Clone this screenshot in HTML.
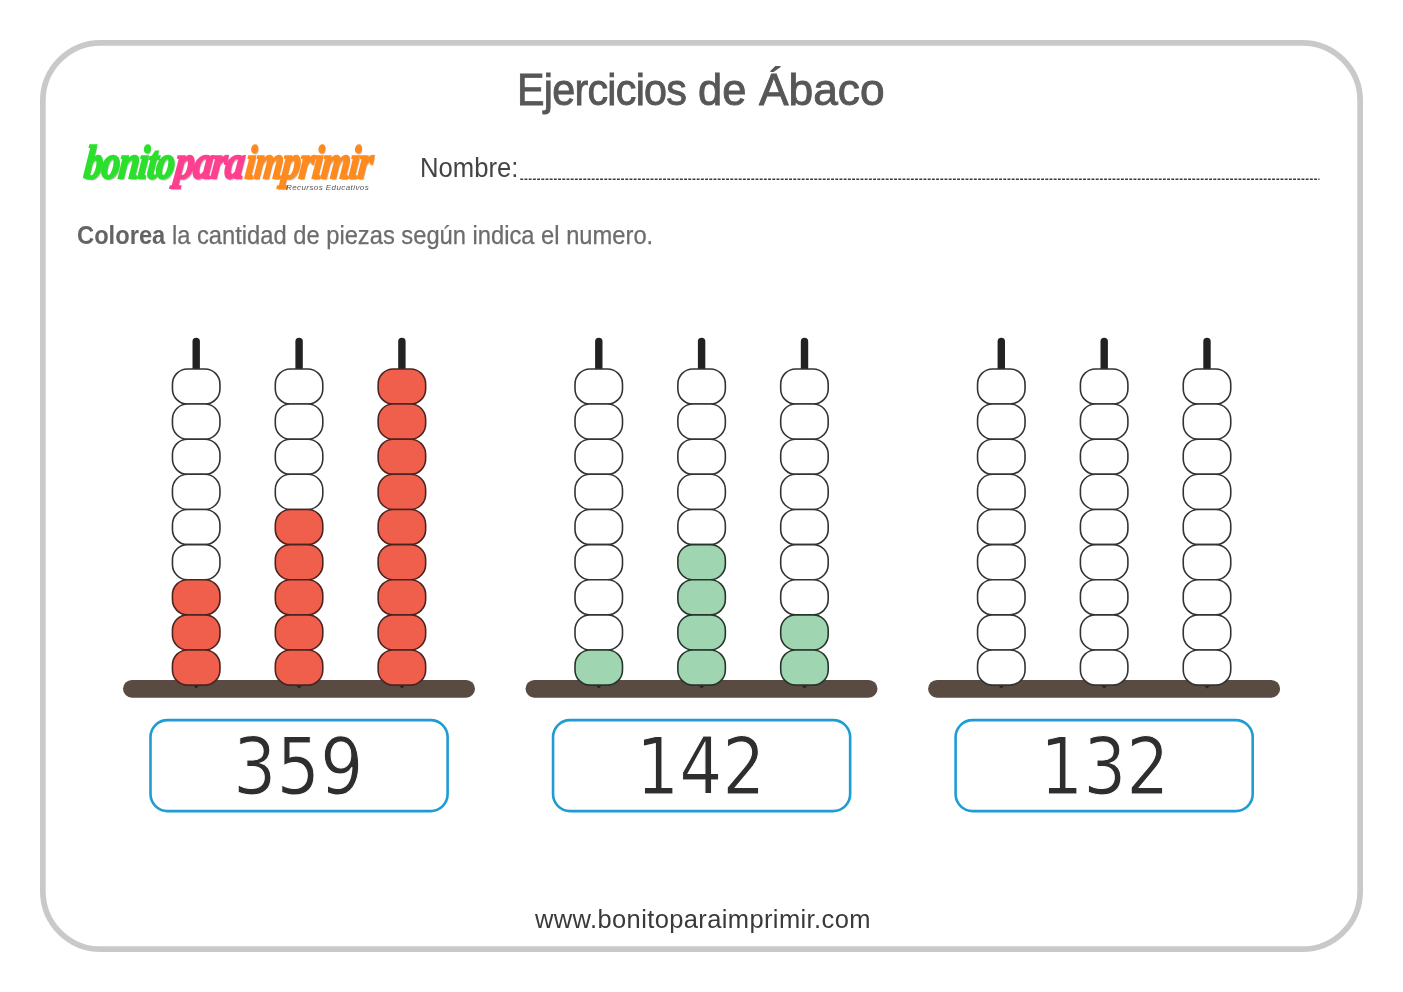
<!DOCTYPE html>
<html lang="es">
<head>
<meta charset="utf-8">
<title>Ejercicios de Ábaco</title>
<style>
html,body{margin:0;padding:0;background:#fff;}
body{width:1403px;height:992px;position:relative;overflow:hidden;font-family:"Liberation Sans",sans-serif;}
.frame{fill:none;stroke:#c9c9c9;stroke-width:5.7;}
.abs{position:absolute;white-space:nowrap;line-height:1;}
.title{font-size:45px;color:#575757;-webkit-text-stroke:0.9px #575757;top:66.9px;transform-origin:0 0;}
.t1{left:516.95px;letter-spacing:-0.8px;transform:scaleX(0.9166);}
.t2{left:698.3px;transform:scaleX(0.9646);}
.t3{left:759.1px;transform:scaleX(0.985);}
.nombre{left:419.5px;top:154.8px;font-size:27px;color:#444;transform-origin:0 0;transform:scaleX(0.95);}
.dots{stroke:#3a3a3a;stroke-width:1.7;stroke-dasharray:2.9 1.3;}
.instr{left:77.05px;top:222.6px;font-size:25px;color:#6c6c6c;transform-origin:0 0;transform:scaleX(0.9487);-webkit-text-stroke:0.25px #6c6c6c;}
.instr b{color:#646464;-webkit-text-stroke:0;}
.logo{top:135px;font:italic 700 47px "Liberation Serif",serif;letter-spacing:-1.4px;transform-origin:0 0;text-shadow:1.5px 2px 1.2px rgba(110,110,110,0.5);}
.lg{left:88.46px;color:#2be02b;-webkit-text-stroke:2.2px #2be02b;transform:scaleX(0.78) skewX(-8deg);}
.lp{left:178.63px;color:#ff3f8f;-webkit-text-stroke:2.2px #ff3f8f;transform:scaleX(0.819) skewX(-8deg);}
.lo{left:249.49px;color:#ff8a1e;-webkit-text-stroke:2.2px #ff8a1e;transform:scaleX(0.782) skewX(-8deg);}
.sub{left:286px;top:184.4px;font-size:8px;font-style:italic;color:#555;letter-spacing:0.42px;}
.num{font-family:"DejaVu Sans Condensed","Liberation Sans",sans-serif;font-size:78px;color:#2e2e2e;-webkit-text-stroke:1px #fff;top:727.7px;transform-origin:0 0;}
.box{fill:none;stroke:#1e9cd3;stroke-width:2.6;}
.footer{left:535px;top:906.9px;font-size:25.5px;color:#3a3a3a;letter-spacing:0.38px;}
svg{position:absolute;left:0;top:0;}
.rod{stroke:#222;stroke-width:7.4;stroke-linecap:round;}
.bar{fill:#594a42;}
.tip{fill:#2a2220;}
.bead{stroke-width:1.6;}
</style>
</head>
<body>
<div class="abs title t1">Ejercicios </div><div class="abs title t2">de </div><div class="abs title t3">Ábaco</div>
<div class="abs logo lo">imprimir</div><div class="abs logo lp">para</div><div class="abs logo lg">bonito</div>
<div class="abs sub">Recursos Educativos</div>
<div class="abs nombre">Nombre:</div>
<div class="abs instr"><b>Colorea</b> la cantidad de piezas según indica el numero.</div>
<svg width="1403" height="992" viewBox="0 0 1403 992">
<rect class="frame" x="42.85" y="42.85" width="1317.3" height="906.3" rx="58"/>
<line class="rod" x1="196.2" y1="341.4" x2="196.2" y2="686.5"/>
<line class="rod" x1="299.1" y1="341.4" x2="299.1" y2="686.5"/>
<line class="rod" x1="401.9" y1="341.4" x2="401.9" y2="686.5"/>
<rect class="box" x="150.50" y="720.10" width="297.10" height="91.00" rx="17"/>
<rect class="bar" x="123.0" y="679.9" width="352.0" height="17.8" rx="8.90"/>
<path class="tip" d="M193.2,685.6L196.2,688.6L199.2,685.6Z"/>
<path class="tip" d="M296.1,685.6L299.1,688.6L302.1,685.6Z"/>
<path class="tip" d="M398.9,685.6L401.9,688.6L404.9,685.6Z"/>
<path class="bead" fill="#fff" stroke="#333333" d="M187.45,368.95H204.95C213.23,368.95 219.95,375.76 219.95,384.15V388.88C219.95,397.27 213.23,404.07 204.95,404.07H187.45C179.17,404.07 172.45,397.27 172.45,388.88V384.15C172.45,375.76 179.17,368.95 187.45,368.95Z"/>
<path class="bead" fill="#fff" stroke="#333333" d="M187.45,404.07H204.95C213.23,404.07 219.95,410.88 219.95,419.27V424.00C219.95,432.39 213.23,439.20 204.95,439.20H187.45C179.17,439.20 172.45,432.39 172.45,424.00V419.27C172.45,410.88 179.17,404.07 187.45,404.07Z"/>
<path class="bead" fill="#fff" stroke="#333333" d="M187.45,439.20H204.95C213.23,439.20 219.95,446.01 219.95,454.40V459.12C219.95,467.52 213.23,474.32 204.95,474.32H187.45C179.17,474.32 172.45,467.52 172.45,459.12V454.40C172.45,446.01 179.17,439.20 187.45,439.20Z"/>
<path class="bead" fill="#fff" stroke="#333333" d="M187.45,474.32H204.95C213.23,474.32 219.95,481.13 219.95,489.52V494.25C219.95,502.64 213.23,509.45 204.95,509.45H187.45C179.17,509.45 172.45,502.64 172.45,494.25V489.52C172.45,481.13 179.17,474.32 187.45,474.32Z"/>
<path class="bead" fill="#fff" stroke="#333333" d="M187.45,509.45H204.95C213.23,509.45 219.95,516.26 219.95,524.65V529.38C219.95,537.77 213.23,544.58 204.95,544.58H187.45C179.17,544.58 172.45,537.77 172.45,529.38V524.65C172.45,516.26 179.17,509.45 187.45,509.45Z"/>
<path class="bead" fill="#fff" stroke="#333333" d="M187.45,544.58H204.95C213.23,544.58 219.95,551.38 219.95,559.78V564.50C219.95,572.89 213.23,579.70 204.95,579.70H187.45C179.17,579.70 172.45,572.89 172.45,564.50V559.78C172.45,551.38 179.17,544.58 187.45,544.58Z"/>
<path class="bead" fill="#f05f4b" stroke="#4a2420" d="M187.45,579.70H204.95C213.23,579.70 219.95,586.51 219.95,594.90V599.62C219.95,608.02 213.23,614.83 204.95,614.83H187.45C179.17,614.83 172.45,608.02 172.45,599.62V594.90C172.45,586.51 179.17,579.70 187.45,579.70Z"/>
<path class="bead" fill="#f05f4b" stroke="#4a2420" d="M187.45,614.83H204.95C213.23,614.83 219.95,621.63 219.95,630.03V634.75C219.95,643.14 213.23,649.95 204.95,649.95H187.45C179.17,649.95 172.45,643.14 172.45,634.75V630.03C172.45,621.63 179.17,614.83 187.45,614.83Z"/>
<path class="bead" fill="#f05f4b" stroke="#4a2420" d="M187.45,649.95H204.95C213.23,649.95 219.95,656.76 219.95,665.15V669.88C219.95,678.27 213.23,685.08 204.95,685.08H187.45C179.17,685.08 172.45,678.27 172.45,669.88V665.15C172.45,656.76 179.17,649.95 187.45,649.95Z"/>
<path class="bead" fill="#fff" stroke="#333333" d="M290.30,368.95H307.80C316.08,368.95 322.80,375.76 322.80,384.15V388.88C322.80,397.27 316.08,404.07 307.80,404.07H290.30C282.02,404.07 275.30,397.27 275.30,388.88V384.15C275.30,375.76 282.02,368.95 290.30,368.95Z"/>
<path class="bead" fill="#fff" stroke="#333333" d="M290.30,404.07H307.80C316.08,404.07 322.80,410.88 322.80,419.27V424.00C322.80,432.39 316.08,439.20 307.80,439.20H290.30C282.02,439.20 275.30,432.39 275.30,424.00V419.27C275.30,410.88 282.02,404.07 290.30,404.07Z"/>
<path class="bead" fill="#fff" stroke="#333333" d="M290.30,439.20H307.80C316.08,439.20 322.80,446.01 322.80,454.40V459.12C322.80,467.52 316.08,474.32 307.80,474.32H290.30C282.02,474.32 275.30,467.52 275.30,459.12V454.40C275.30,446.01 282.02,439.20 290.30,439.20Z"/>
<path class="bead" fill="#fff" stroke="#333333" d="M290.30,474.32H307.80C316.08,474.32 322.80,481.13 322.80,489.52V494.25C322.80,502.64 316.08,509.45 307.80,509.45H290.30C282.02,509.45 275.30,502.64 275.30,494.25V489.52C275.30,481.13 282.02,474.32 290.30,474.32Z"/>
<path class="bead" fill="#f05f4b" stroke="#4a2420" d="M290.30,509.45H307.80C316.08,509.45 322.80,516.26 322.80,524.65V529.38C322.80,537.77 316.08,544.58 307.80,544.58H290.30C282.02,544.58 275.30,537.77 275.30,529.38V524.65C275.30,516.26 282.02,509.45 290.30,509.45Z"/>
<path class="bead" fill="#f05f4b" stroke="#4a2420" d="M290.30,544.58H307.80C316.08,544.58 322.80,551.38 322.80,559.78V564.50C322.80,572.89 316.08,579.70 307.80,579.70H290.30C282.02,579.70 275.30,572.89 275.30,564.50V559.78C275.30,551.38 282.02,544.58 290.30,544.58Z"/>
<path class="bead" fill="#f05f4b" stroke="#4a2420" d="M290.30,579.70H307.80C316.08,579.70 322.80,586.51 322.80,594.90V599.62C322.80,608.02 316.08,614.83 307.80,614.83H290.30C282.02,614.83 275.30,608.02 275.30,599.62V594.90C275.30,586.51 282.02,579.70 290.30,579.70Z"/>
<path class="bead" fill="#f05f4b" stroke="#4a2420" d="M290.30,614.83H307.80C316.08,614.83 322.80,621.63 322.80,630.03V634.75C322.80,643.14 316.08,649.95 307.80,649.95H290.30C282.02,649.95 275.30,643.14 275.30,634.75V630.03C275.30,621.63 282.02,614.83 290.30,614.83Z"/>
<path class="bead" fill="#f05f4b" stroke="#4a2420" d="M290.30,649.95H307.80C316.08,649.95 322.80,656.76 322.80,665.15V669.88C322.80,678.27 316.08,685.08 307.80,685.08H290.30C282.02,685.08 275.30,678.27 275.30,669.88V665.15C275.30,656.76 282.02,649.95 290.30,649.95Z"/>
<path class="bead" fill="#f05f4b" stroke="#4a2420" d="M393.15,368.95H410.65C418.93,368.95 425.65,375.76 425.65,384.15V388.88C425.65,397.27 418.93,404.07 410.65,404.07H393.15C384.87,404.07 378.15,397.27 378.15,388.88V384.15C378.15,375.76 384.87,368.95 393.15,368.95Z"/>
<path class="bead" fill="#f05f4b" stroke="#4a2420" d="M393.15,404.07H410.65C418.93,404.07 425.65,410.88 425.65,419.27V424.00C425.65,432.39 418.93,439.20 410.65,439.20H393.15C384.87,439.20 378.15,432.39 378.15,424.00V419.27C378.15,410.88 384.87,404.07 393.15,404.07Z"/>
<path class="bead" fill="#f05f4b" stroke="#4a2420" d="M393.15,439.20H410.65C418.93,439.20 425.65,446.01 425.65,454.40V459.12C425.65,467.52 418.93,474.32 410.65,474.32H393.15C384.87,474.32 378.15,467.52 378.15,459.12V454.40C378.15,446.01 384.87,439.20 393.15,439.20Z"/>
<path class="bead" fill="#f05f4b" stroke="#4a2420" d="M393.15,474.32H410.65C418.93,474.32 425.65,481.13 425.65,489.52V494.25C425.65,502.64 418.93,509.45 410.65,509.45H393.15C384.87,509.45 378.15,502.64 378.15,494.25V489.52C378.15,481.13 384.87,474.32 393.15,474.32Z"/>
<path class="bead" fill="#f05f4b" stroke="#4a2420" d="M393.15,509.45H410.65C418.93,509.45 425.65,516.26 425.65,524.65V529.38C425.65,537.77 418.93,544.58 410.65,544.58H393.15C384.87,544.58 378.15,537.77 378.15,529.38V524.65C378.15,516.26 384.87,509.45 393.15,509.45Z"/>
<path class="bead" fill="#f05f4b" stroke="#4a2420" d="M393.15,544.58H410.65C418.93,544.58 425.65,551.38 425.65,559.78V564.50C425.65,572.89 418.93,579.70 410.65,579.70H393.15C384.87,579.70 378.15,572.89 378.15,564.50V559.78C378.15,551.38 384.87,544.58 393.15,544.58Z"/>
<path class="bead" fill="#f05f4b" stroke="#4a2420" d="M393.15,579.70H410.65C418.93,579.70 425.65,586.51 425.65,594.90V599.62C425.65,608.02 418.93,614.83 410.65,614.83H393.15C384.87,614.83 378.15,608.02 378.15,599.62V594.90C378.15,586.51 384.87,579.70 393.15,579.70Z"/>
<path class="bead" fill="#f05f4b" stroke="#4a2420" d="M393.15,614.83H410.65C418.93,614.83 425.65,621.63 425.65,630.03V634.75C425.65,643.14 418.93,649.95 410.65,649.95H393.15C384.87,649.95 378.15,643.14 378.15,634.75V630.03C378.15,621.63 384.87,614.83 393.15,614.83Z"/>
<path class="bead" fill="#f05f4b" stroke="#4a2420" d="M393.15,649.95H410.65C418.93,649.95 425.65,656.76 425.65,665.15V669.88C425.65,678.27 418.93,685.08 410.65,685.08H393.15C384.87,685.08 378.15,678.27 378.15,669.88V665.15C378.15,656.76 384.87,649.95 393.15,649.95Z"/>
<line class="rod" x1="598.8" y1="341.4" x2="598.8" y2="686.5"/>
<line class="rod" x1="701.6" y1="341.4" x2="701.6" y2="686.5"/>
<line class="rod" x1="804.5" y1="341.4" x2="804.5" y2="686.5"/>
<rect class="box" x="553.05" y="720.10" width="297.10" height="91.00" rx="17"/>
<rect class="bar" x="525.5" y="679.9" width="352.0" height="17.8" rx="8.90"/>
<path class="tip" d="M595.8,685.6L598.8,688.6L601.8,685.6Z"/>
<path class="tip" d="M698.6,685.6L701.6,688.6L704.6,685.6Z"/>
<path class="tip" d="M801.5,685.6L804.5,688.6L807.5,685.6Z"/>
<path class="bead" fill="#fff" stroke="#333333" d="M590.00,368.95H607.50C615.78,368.95 622.50,375.76 622.50,384.15V388.88C622.50,397.27 615.78,404.07 607.50,404.07H590.00C581.72,404.07 575.00,397.27 575.00,388.88V384.15C575.00,375.76 581.72,368.95 590.00,368.95Z"/>
<path class="bead" fill="#fff" stroke="#333333" d="M590.00,404.07H607.50C615.78,404.07 622.50,410.88 622.50,419.27V424.00C622.50,432.39 615.78,439.20 607.50,439.20H590.00C581.72,439.20 575.00,432.39 575.00,424.00V419.27C575.00,410.88 581.72,404.07 590.00,404.07Z"/>
<path class="bead" fill="#fff" stroke="#333333" d="M590.00,439.20H607.50C615.78,439.20 622.50,446.01 622.50,454.40V459.12C622.50,467.52 615.78,474.32 607.50,474.32H590.00C581.72,474.32 575.00,467.52 575.00,459.12V454.40C575.00,446.01 581.72,439.20 590.00,439.20Z"/>
<path class="bead" fill="#fff" stroke="#333333" d="M590.00,474.32H607.50C615.78,474.32 622.50,481.13 622.50,489.52V494.25C622.50,502.64 615.78,509.45 607.50,509.45H590.00C581.72,509.45 575.00,502.64 575.00,494.25V489.52C575.00,481.13 581.72,474.32 590.00,474.32Z"/>
<path class="bead" fill="#fff" stroke="#333333" d="M590.00,509.45H607.50C615.78,509.45 622.50,516.26 622.50,524.65V529.38C622.50,537.77 615.78,544.58 607.50,544.58H590.00C581.72,544.58 575.00,537.77 575.00,529.38V524.65C575.00,516.26 581.72,509.45 590.00,509.45Z"/>
<path class="bead" fill="#fff" stroke="#333333" d="M590.00,544.58H607.50C615.78,544.58 622.50,551.38 622.50,559.78V564.50C622.50,572.89 615.78,579.70 607.50,579.70H590.00C581.72,579.70 575.00,572.89 575.00,564.50V559.78C575.00,551.38 581.72,544.58 590.00,544.58Z"/>
<path class="bead" fill="#fff" stroke="#333333" d="M590.00,579.70H607.50C615.78,579.70 622.50,586.51 622.50,594.90V599.62C622.50,608.02 615.78,614.83 607.50,614.83H590.00C581.72,614.83 575.00,608.02 575.00,599.62V594.90C575.00,586.51 581.72,579.70 590.00,579.70Z"/>
<path class="bead" fill="#fff" stroke="#333333" d="M590.00,614.83H607.50C615.78,614.83 622.50,621.63 622.50,630.03V634.75C622.50,643.14 615.78,649.95 607.50,649.95H590.00C581.72,649.95 575.00,643.14 575.00,634.75V630.03C575.00,621.63 581.72,614.83 590.00,614.83Z"/>
<path class="bead" fill="#9fd5b1" stroke="#27352c" d="M590.00,649.95H607.50C615.78,649.95 622.50,656.76 622.50,665.15V669.88C622.50,678.27 615.78,685.08 607.50,685.08H590.00C581.72,685.08 575.00,678.27 575.00,669.88V665.15C575.00,656.76 581.72,649.95 590.00,649.95Z"/>
<path class="bead" fill="#fff" stroke="#333333" d="M692.85,368.95H710.35C718.63,368.95 725.35,375.76 725.35,384.15V388.88C725.35,397.27 718.63,404.07 710.35,404.07H692.85C684.57,404.07 677.85,397.27 677.85,388.88V384.15C677.85,375.76 684.57,368.95 692.85,368.95Z"/>
<path class="bead" fill="#fff" stroke="#333333" d="M692.85,404.07H710.35C718.63,404.07 725.35,410.88 725.35,419.27V424.00C725.35,432.39 718.63,439.20 710.35,439.20H692.85C684.57,439.20 677.85,432.39 677.85,424.00V419.27C677.85,410.88 684.57,404.07 692.85,404.07Z"/>
<path class="bead" fill="#fff" stroke="#333333" d="M692.85,439.20H710.35C718.63,439.20 725.35,446.01 725.35,454.40V459.12C725.35,467.52 718.63,474.32 710.35,474.32H692.85C684.57,474.32 677.85,467.52 677.85,459.12V454.40C677.85,446.01 684.57,439.20 692.85,439.20Z"/>
<path class="bead" fill="#fff" stroke="#333333" d="M692.85,474.32H710.35C718.63,474.32 725.35,481.13 725.35,489.52V494.25C725.35,502.64 718.63,509.45 710.35,509.45H692.85C684.57,509.45 677.85,502.64 677.85,494.25V489.52C677.85,481.13 684.57,474.32 692.85,474.32Z"/>
<path class="bead" fill="#fff" stroke="#333333" d="M692.85,509.45H710.35C718.63,509.45 725.35,516.26 725.35,524.65V529.38C725.35,537.77 718.63,544.58 710.35,544.58H692.85C684.57,544.58 677.85,537.77 677.85,529.38V524.65C677.85,516.26 684.57,509.45 692.85,509.45Z"/>
<path class="bead" fill="#9fd5b1" stroke="#27352c" d="M692.85,544.58H710.35C718.63,544.58 725.35,551.38 725.35,559.78V564.50C725.35,572.89 718.63,579.70 710.35,579.70H692.85C684.57,579.70 677.85,572.89 677.85,564.50V559.78C677.85,551.38 684.57,544.58 692.85,544.58Z"/>
<path class="bead" fill="#9fd5b1" stroke="#27352c" d="M692.85,579.70H710.35C718.63,579.70 725.35,586.51 725.35,594.90V599.62C725.35,608.02 718.63,614.83 710.35,614.83H692.85C684.57,614.83 677.85,608.02 677.85,599.62V594.90C677.85,586.51 684.57,579.70 692.85,579.70Z"/>
<path class="bead" fill="#9fd5b1" stroke="#27352c" d="M692.85,614.83H710.35C718.63,614.83 725.35,621.63 725.35,630.03V634.75C725.35,643.14 718.63,649.95 710.35,649.95H692.85C684.57,649.95 677.85,643.14 677.85,634.75V630.03C677.85,621.63 684.57,614.83 692.85,614.83Z"/>
<path class="bead" fill="#9fd5b1" stroke="#27352c" d="M692.85,649.95H710.35C718.63,649.95 725.35,656.76 725.35,665.15V669.88C725.35,678.27 718.63,685.08 710.35,685.08H692.85C684.57,685.08 677.85,678.27 677.85,669.88V665.15C677.85,656.76 684.57,649.95 692.85,649.95Z"/>
<path class="bead" fill="#fff" stroke="#333333" d="M795.70,368.95H813.20C821.48,368.95 828.20,375.76 828.20,384.15V388.88C828.20,397.27 821.48,404.07 813.20,404.07H795.70C787.42,404.07 780.70,397.27 780.70,388.88V384.15C780.70,375.76 787.42,368.95 795.70,368.95Z"/>
<path class="bead" fill="#fff" stroke="#333333" d="M795.70,404.07H813.20C821.48,404.07 828.20,410.88 828.20,419.27V424.00C828.20,432.39 821.48,439.20 813.20,439.20H795.70C787.42,439.20 780.70,432.39 780.70,424.00V419.27C780.70,410.88 787.42,404.07 795.70,404.07Z"/>
<path class="bead" fill="#fff" stroke="#333333" d="M795.70,439.20H813.20C821.48,439.20 828.20,446.01 828.20,454.40V459.12C828.20,467.52 821.48,474.32 813.20,474.32H795.70C787.42,474.32 780.70,467.52 780.70,459.12V454.40C780.70,446.01 787.42,439.20 795.70,439.20Z"/>
<path class="bead" fill="#fff" stroke="#333333" d="M795.70,474.32H813.20C821.48,474.32 828.20,481.13 828.20,489.52V494.25C828.20,502.64 821.48,509.45 813.20,509.45H795.70C787.42,509.45 780.70,502.64 780.70,494.25V489.52C780.70,481.13 787.42,474.32 795.70,474.32Z"/>
<path class="bead" fill="#fff" stroke="#333333" d="M795.70,509.45H813.20C821.48,509.45 828.20,516.26 828.20,524.65V529.38C828.20,537.77 821.48,544.58 813.20,544.58H795.70C787.42,544.58 780.70,537.77 780.70,529.38V524.65C780.70,516.26 787.42,509.45 795.70,509.45Z"/>
<path class="bead" fill="#fff" stroke="#333333" d="M795.70,544.58H813.20C821.48,544.58 828.20,551.38 828.20,559.78V564.50C828.20,572.89 821.48,579.70 813.20,579.70H795.70C787.42,579.70 780.70,572.89 780.70,564.50V559.78C780.70,551.38 787.42,544.58 795.70,544.58Z"/>
<path class="bead" fill="#fff" stroke="#333333" d="M795.70,579.70H813.20C821.48,579.70 828.20,586.51 828.20,594.90V599.62C828.20,608.02 821.48,614.83 813.20,614.83H795.70C787.42,614.83 780.70,608.02 780.70,599.62V594.90C780.70,586.51 787.42,579.70 795.70,579.70Z"/>
<path class="bead" fill="#9fd5b1" stroke="#27352c" d="M795.70,614.83H813.20C821.48,614.83 828.20,621.63 828.20,630.03V634.75C828.20,643.14 821.48,649.95 813.20,649.95H795.70C787.42,649.95 780.70,643.14 780.70,634.75V630.03C780.70,621.63 787.42,614.83 795.70,614.83Z"/>
<path class="bead" fill="#9fd5b1" stroke="#27352c" d="M795.70,649.95H813.20C821.48,649.95 828.20,656.76 828.20,665.15V669.88C828.20,678.27 821.48,685.08 813.20,685.08H795.70C787.42,685.08 780.70,678.27 780.70,669.88V665.15C780.70,656.76 787.42,649.95 795.70,649.95Z"/>
<line class="rod" x1="1001.3" y1="341.4" x2="1001.3" y2="686.5"/>
<line class="rod" x1="1104.2" y1="341.4" x2="1104.2" y2="686.5"/>
<line class="rod" x1="1207.0" y1="341.4" x2="1207.0" y2="686.5"/>
<rect class="box" x="955.60" y="720.10" width="297.10" height="91.00" rx="17"/>
<rect class="bar" x="928.1" y="679.9" width="352.0" height="17.8" rx="8.90"/>
<path class="tip" d="M998.3,685.6L1001.3,688.6L1004.3,685.6Z"/>
<path class="tip" d="M1101.2,685.6L1104.2,688.6L1107.2,685.6Z"/>
<path class="tip" d="M1204.0,685.6L1207.0,688.6L1210.0,685.6Z"/>
<path class="bead" fill="#fff" stroke="#333333" d="M992.55,368.95H1010.05C1018.33,368.95 1025.05,375.76 1025.05,384.15V388.88C1025.05,397.27 1018.33,404.07 1010.05,404.07H992.55C984.27,404.07 977.55,397.27 977.55,388.88V384.15C977.55,375.76 984.27,368.95 992.55,368.95Z"/>
<path class="bead" fill="#fff" stroke="#333333" d="M992.55,404.07H1010.05C1018.33,404.07 1025.05,410.88 1025.05,419.27V424.00C1025.05,432.39 1018.33,439.20 1010.05,439.20H992.55C984.27,439.20 977.55,432.39 977.55,424.00V419.27C977.55,410.88 984.27,404.07 992.55,404.07Z"/>
<path class="bead" fill="#fff" stroke="#333333" d="M992.55,439.20H1010.05C1018.33,439.20 1025.05,446.01 1025.05,454.40V459.12C1025.05,467.52 1018.33,474.32 1010.05,474.32H992.55C984.27,474.32 977.55,467.52 977.55,459.12V454.40C977.55,446.01 984.27,439.20 992.55,439.20Z"/>
<path class="bead" fill="#fff" stroke="#333333" d="M992.55,474.32H1010.05C1018.33,474.32 1025.05,481.13 1025.05,489.52V494.25C1025.05,502.64 1018.33,509.45 1010.05,509.45H992.55C984.27,509.45 977.55,502.64 977.55,494.25V489.52C977.55,481.13 984.27,474.32 992.55,474.32Z"/>
<path class="bead" fill="#fff" stroke="#333333" d="M992.55,509.45H1010.05C1018.33,509.45 1025.05,516.26 1025.05,524.65V529.38C1025.05,537.77 1018.33,544.58 1010.05,544.58H992.55C984.27,544.58 977.55,537.77 977.55,529.38V524.65C977.55,516.26 984.27,509.45 992.55,509.45Z"/>
<path class="bead" fill="#fff" stroke="#333333" d="M992.55,544.58H1010.05C1018.33,544.58 1025.05,551.38 1025.05,559.78V564.50C1025.05,572.89 1018.33,579.70 1010.05,579.70H992.55C984.27,579.70 977.55,572.89 977.55,564.50V559.78C977.55,551.38 984.27,544.58 992.55,544.58Z"/>
<path class="bead" fill="#fff" stroke="#333333" d="M992.55,579.70H1010.05C1018.33,579.70 1025.05,586.51 1025.05,594.90V599.62C1025.05,608.02 1018.33,614.83 1010.05,614.83H992.55C984.27,614.83 977.55,608.02 977.55,599.62V594.90C977.55,586.51 984.27,579.70 992.55,579.70Z"/>
<path class="bead" fill="#fff" stroke="#333333" d="M992.55,614.83H1010.05C1018.33,614.83 1025.05,621.63 1025.05,630.03V634.75C1025.05,643.14 1018.33,649.95 1010.05,649.95H992.55C984.27,649.95 977.55,643.14 977.55,634.75V630.03C977.55,621.63 984.27,614.83 992.55,614.83Z"/>
<path class="bead" fill="#fff" stroke="#333333" d="M992.55,649.95H1010.05C1018.33,649.95 1025.05,656.76 1025.05,665.15V669.88C1025.05,678.27 1018.33,685.08 1010.05,685.08H992.55C984.27,685.08 977.55,678.27 977.55,669.88V665.15C977.55,656.76 984.27,649.95 992.55,649.95Z"/>
<path class="bead" fill="#fff" stroke="#333333" d="M1095.40,368.95H1112.90C1121.18,368.95 1127.90,375.76 1127.90,384.15V388.88C1127.90,397.27 1121.18,404.07 1112.90,404.07H1095.40C1087.12,404.07 1080.40,397.27 1080.40,388.88V384.15C1080.40,375.76 1087.12,368.95 1095.40,368.95Z"/>
<path class="bead" fill="#fff" stroke="#333333" d="M1095.40,404.07H1112.90C1121.18,404.07 1127.90,410.88 1127.90,419.27V424.00C1127.90,432.39 1121.18,439.20 1112.90,439.20H1095.40C1087.12,439.20 1080.40,432.39 1080.40,424.00V419.27C1080.40,410.88 1087.12,404.07 1095.40,404.07Z"/>
<path class="bead" fill="#fff" stroke="#333333" d="M1095.40,439.20H1112.90C1121.18,439.20 1127.90,446.01 1127.90,454.40V459.12C1127.90,467.52 1121.18,474.32 1112.90,474.32H1095.40C1087.12,474.32 1080.40,467.52 1080.40,459.12V454.40C1080.40,446.01 1087.12,439.20 1095.40,439.20Z"/>
<path class="bead" fill="#fff" stroke="#333333" d="M1095.40,474.32H1112.90C1121.18,474.32 1127.90,481.13 1127.90,489.52V494.25C1127.90,502.64 1121.18,509.45 1112.90,509.45H1095.40C1087.12,509.45 1080.40,502.64 1080.40,494.25V489.52C1080.40,481.13 1087.12,474.32 1095.40,474.32Z"/>
<path class="bead" fill="#fff" stroke="#333333" d="M1095.40,509.45H1112.90C1121.18,509.45 1127.90,516.26 1127.90,524.65V529.38C1127.90,537.77 1121.18,544.58 1112.90,544.58H1095.40C1087.12,544.58 1080.40,537.77 1080.40,529.38V524.65C1080.40,516.26 1087.12,509.45 1095.40,509.45Z"/>
<path class="bead" fill="#fff" stroke="#333333" d="M1095.40,544.58H1112.90C1121.18,544.58 1127.90,551.38 1127.90,559.78V564.50C1127.90,572.89 1121.18,579.70 1112.90,579.70H1095.40C1087.12,579.70 1080.40,572.89 1080.40,564.50V559.78C1080.40,551.38 1087.12,544.58 1095.40,544.58Z"/>
<path class="bead" fill="#fff" stroke="#333333" d="M1095.40,579.70H1112.90C1121.18,579.70 1127.90,586.51 1127.90,594.90V599.62C1127.90,608.02 1121.18,614.83 1112.90,614.83H1095.40C1087.12,614.83 1080.40,608.02 1080.40,599.62V594.90C1080.40,586.51 1087.12,579.70 1095.40,579.70Z"/>
<path class="bead" fill="#fff" stroke="#333333" d="M1095.40,614.83H1112.90C1121.18,614.83 1127.90,621.63 1127.90,630.03V634.75C1127.90,643.14 1121.18,649.95 1112.90,649.95H1095.40C1087.12,649.95 1080.40,643.14 1080.40,634.75V630.03C1080.40,621.63 1087.12,614.83 1095.40,614.83Z"/>
<path class="bead" fill="#fff" stroke="#333333" d="M1095.40,649.95H1112.90C1121.18,649.95 1127.90,656.76 1127.90,665.15V669.88C1127.90,678.27 1121.18,685.08 1112.90,685.08H1095.40C1087.12,685.08 1080.40,678.27 1080.40,669.88V665.15C1080.40,656.76 1087.12,649.95 1095.40,649.95Z"/>
<path class="bead" fill="#fff" stroke="#333333" d="M1198.25,368.95H1215.75C1224.03,368.95 1230.75,375.76 1230.75,384.15V388.88C1230.75,397.27 1224.03,404.07 1215.75,404.07H1198.25C1189.97,404.07 1183.25,397.27 1183.25,388.88V384.15C1183.25,375.76 1189.97,368.95 1198.25,368.95Z"/>
<path class="bead" fill="#fff" stroke="#333333" d="M1198.25,404.07H1215.75C1224.03,404.07 1230.75,410.88 1230.75,419.27V424.00C1230.75,432.39 1224.03,439.20 1215.75,439.20H1198.25C1189.97,439.20 1183.25,432.39 1183.25,424.00V419.27C1183.25,410.88 1189.97,404.07 1198.25,404.07Z"/>
<path class="bead" fill="#fff" stroke="#333333" d="M1198.25,439.20H1215.75C1224.03,439.20 1230.75,446.01 1230.75,454.40V459.12C1230.75,467.52 1224.03,474.32 1215.75,474.32H1198.25C1189.97,474.32 1183.25,467.52 1183.25,459.12V454.40C1183.25,446.01 1189.97,439.20 1198.25,439.20Z"/>
<path class="bead" fill="#fff" stroke="#333333" d="M1198.25,474.32H1215.75C1224.03,474.32 1230.75,481.13 1230.75,489.52V494.25C1230.75,502.64 1224.03,509.45 1215.75,509.45H1198.25C1189.97,509.45 1183.25,502.64 1183.25,494.25V489.52C1183.25,481.13 1189.97,474.32 1198.25,474.32Z"/>
<path class="bead" fill="#fff" stroke="#333333" d="M1198.25,509.45H1215.75C1224.03,509.45 1230.75,516.26 1230.75,524.65V529.38C1230.75,537.77 1224.03,544.58 1215.75,544.58H1198.25C1189.97,544.58 1183.25,537.77 1183.25,529.38V524.65C1183.25,516.26 1189.97,509.45 1198.25,509.45Z"/>
<path class="bead" fill="#fff" stroke="#333333" d="M1198.25,544.58H1215.75C1224.03,544.58 1230.75,551.38 1230.75,559.78V564.50C1230.75,572.89 1224.03,579.70 1215.75,579.70H1198.25C1189.97,579.70 1183.25,572.89 1183.25,564.50V559.78C1183.25,551.38 1189.97,544.58 1198.25,544.58Z"/>
<path class="bead" fill="#fff" stroke="#333333" d="M1198.25,579.70H1215.75C1224.03,579.70 1230.75,586.51 1230.75,594.90V599.62C1230.75,608.02 1224.03,614.83 1215.75,614.83H1198.25C1189.97,614.83 1183.25,608.02 1183.25,599.62V594.90C1183.25,586.51 1189.97,579.70 1198.25,579.70Z"/>
<path class="bead" fill="#fff" stroke="#333333" d="M1198.25,614.83H1215.75C1224.03,614.83 1230.75,621.63 1230.75,630.03V634.75C1230.75,643.14 1224.03,649.95 1215.75,649.95H1198.25C1189.97,649.95 1183.25,643.14 1183.25,634.75V630.03C1183.25,621.63 1189.97,614.83 1198.25,614.83Z"/>
<path class="bead" fill="#fff" stroke="#333333" d="M1198.25,649.95H1215.75C1224.03,649.95 1230.75,656.76 1230.75,665.15V669.88C1230.75,678.27 1224.03,685.08 1215.75,685.08H1198.25C1189.97,685.08 1183.25,678.27 1183.25,669.88V665.15C1183.25,656.76 1189.97,649.95 1198.25,649.95Z"/>
<line class="dots" x1="520.3" y1="179.25" x2="1319.5" y2="179.25"/>
</svg>
<div class="abs num" style="left:232.96px;transform:scaleX(0.9732)">359</div>
<div class="abs num" style="left:635.66px;transform:scaleX(0.9672)">142</div>
<div class="abs num" style="left:1040.36px;transform:scaleX(0.9672)">132</div>
<div class="abs footer">www.bonitoparaimprimir.com</div>
</body>
</html>
